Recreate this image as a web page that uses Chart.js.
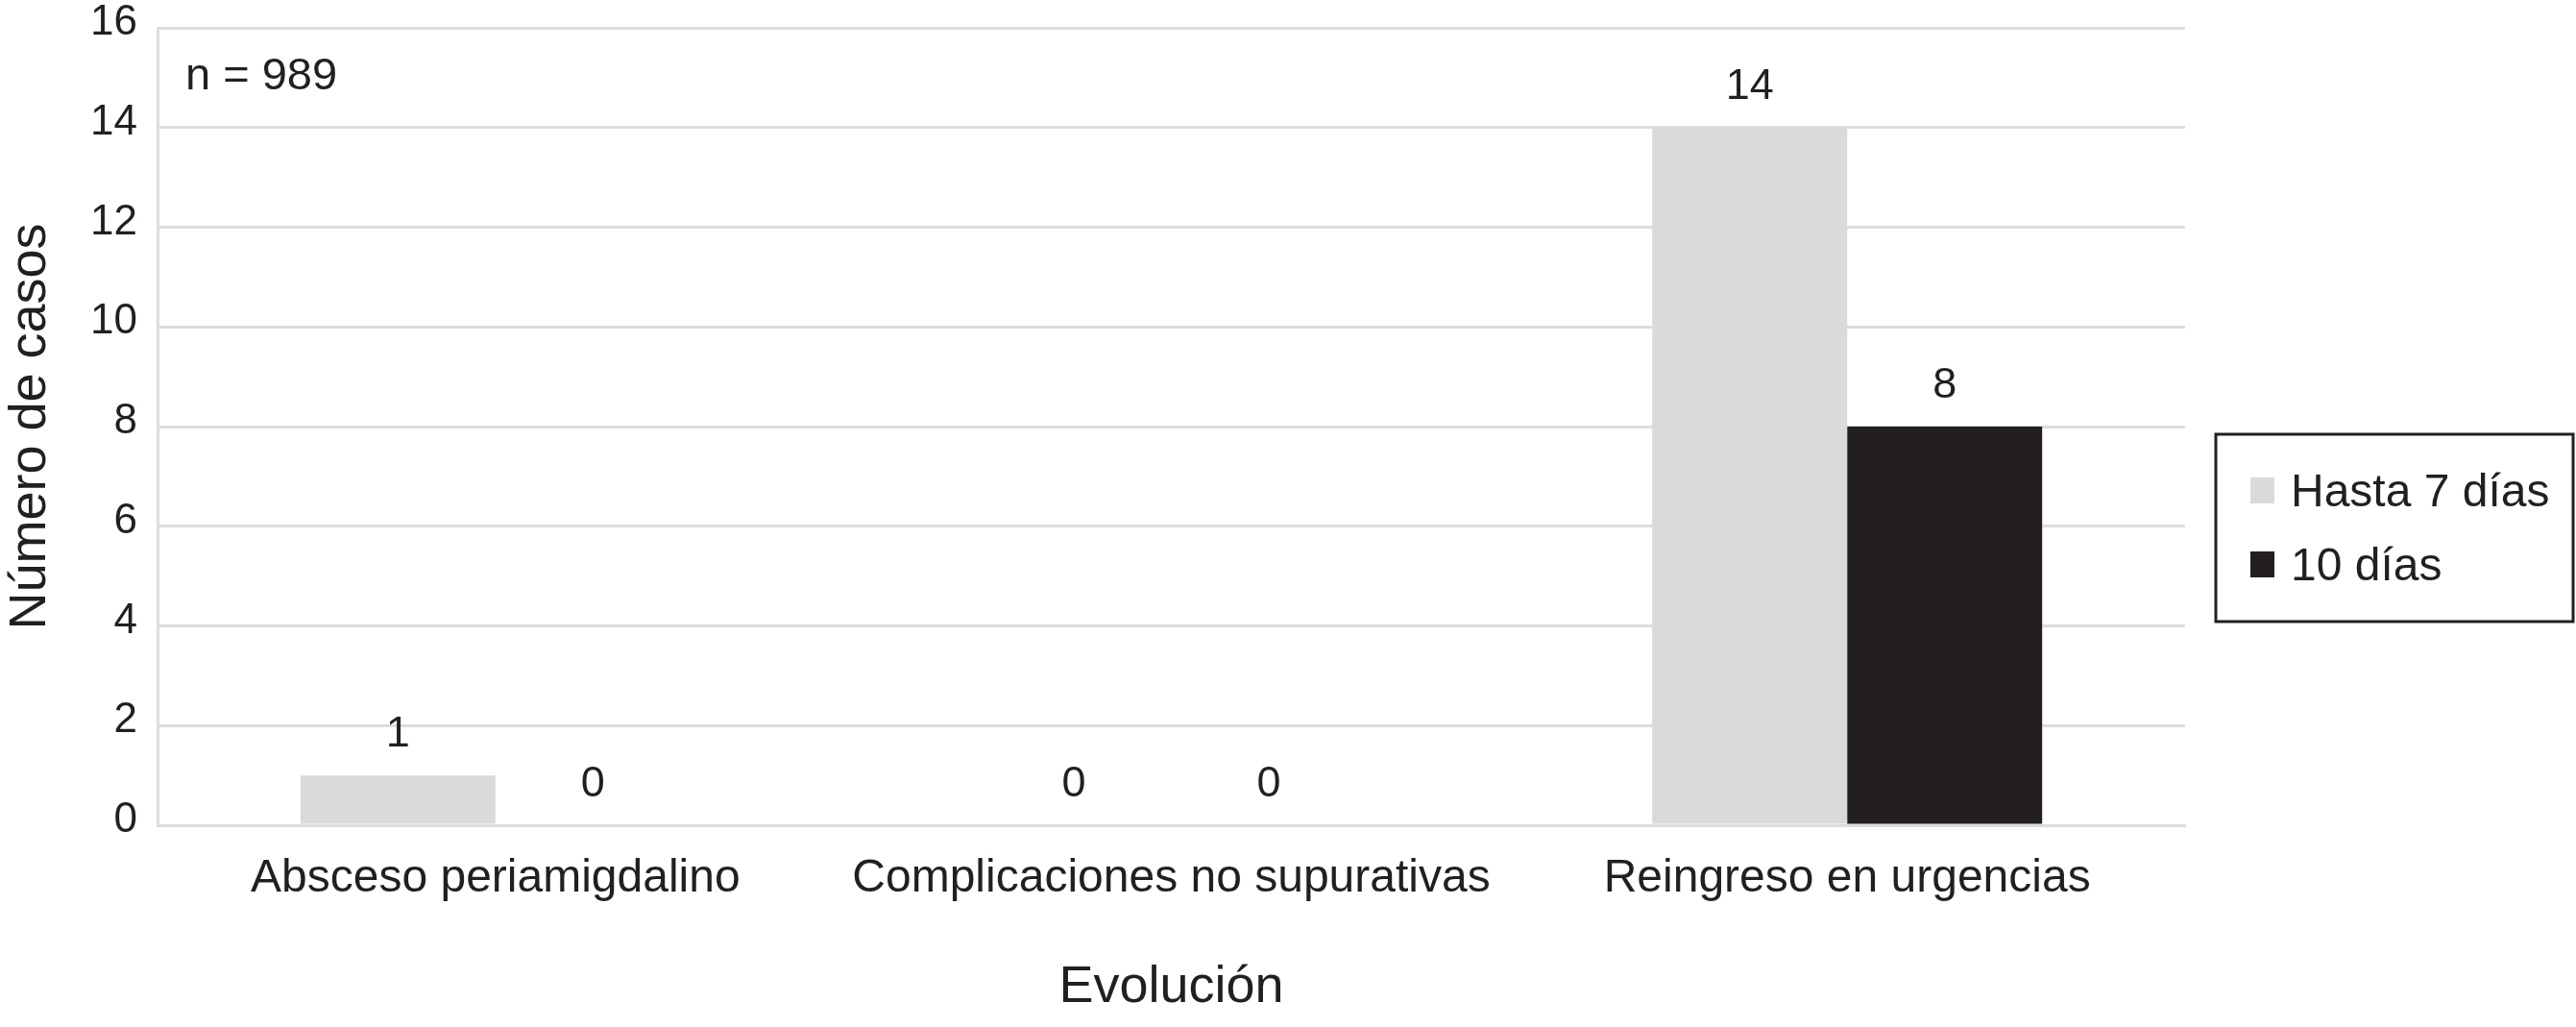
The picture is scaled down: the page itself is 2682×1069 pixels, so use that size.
<!DOCTYPE html>
<html>
<head>
<meta charset="utf-8">
<title>Evolución</title>
<script src="https://cdn.jsdelivr.net/npm/chart.js@4.4.1/dist/chart.umd.min.js"></script>
<style>
  html, body { margin: 0; padding: 0; background: #ffffff; }
  #wrap { width: 2682px; height: 1069px; position: relative; }
</style>
</head>
<body>
<div id="wrap"><canvas id="c"></canvas></div>
<script>
const categories = ['Absceso periamigdalino', 'Complicaciones no supurativas', 'Reingreso en urgencias'];
const seriesNames = ['Hasta 7 días', '10 días'];
const hasta7 = [1, 0, 14];
const diez = [0, 0, 8];
const yTicks = [0, 2, 4, 6, 8, 10, 12, 14, 16];
const annotationText = 'n = 989';
const yTitle = 'Número de casos';
const xTitle = 'Evolución';

const FONT = '"Liberation Sans", Arial, Helvetica, sans-serif';
const TEXT = '#231f20';
const GRID = '#dddddd';
const COLORS = ['#d9dadc', '#231f20'];

const valueLabels = {
  id: 'valueLabels',
  afterDatasetsDraw(chart) {
    const ctx = chart.ctx;
    ctx.save();
    ctx.font = '45px ' + FONT;
    ctx.fillStyle = TEXT;
    ctx.textAlign = 'center';
    ctx.textBaseline = 'alphabetic';
    chart.data.datasets.forEach((ds, di) => {
      const meta = chart.getDatasetMeta(di);
      meta.data.forEach((bar, i) => {
        ctx.fillText(String(ds.data[i]), bar.x, bar.y - 30);
      });
    });
    ctx.restore();
  }
};

const annotation = {
  id: 'annotation',
  afterDraw(chart) {
    const ctx = chart.ctx;
    const a = chart.chartArea;
    ctx.save();
    ctx.font = '47px ' + FONT;
    ctx.fillStyle = TEXT;
    ctx.textAlign = 'left';
    ctx.textBaseline = 'alphabetic';
    ctx.fillText(annotationText, a.left + 29, a.top + 64);
    ctx.restore();
  }
};

const boxedLegend = {
  id: 'boxedLegend',
  afterDraw(chart) {
    const ctx = chart.ctx;
    const a = chart.chartArea;
    const bx = a.right + 32, by = 452, bw = 372, bh = 195;
    ctx.save();
    ctx.strokeStyle = TEXT;
    ctx.lineWidth = 3;
    ctx.strokeRect(bx, by, bw, bh);
    ctx.font = '48px ' + FONT;
    ctx.textAlign = 'left';
    ctx.textBaseline = 'alphabetic';
    chart.data.datasets.forEach((ds, i) => {
      const rowY = by + 45 + i * 77;
      ctx.fillStyle = ds.backgroundColor;
      ctx.fillRect(bx + 36, rowY, 25, 27);
      ctx.fillStyle = TEXT;
      ctx.fillText(ds.label, bx + 78, rowY + 30);
    });
    ctx.restore();
  }
};

new Chart(document.getElementById('c'), {
  type: 'bar',
  data: {
    labels: categories,
    datasets: [
      { label: seriesNames[0], data: hasta7, backgroundColor: COLORS[0], borderWidth: 0 },
      { label: seriesNames[1], data: diez, backgroundColor: COLORS[1], borderWidth: 0 }
    ]
  },
  options: {
    responsive: true,
    maintainAspectRatio: false,
    devicePixelRatio: 1,
    animation: false,
    categoryPercentage: 0.577,
    barPercentage: 1.0,
    layout: { padding: { left: 0, top: 29, right: 407, bottom: 0 } },
    plugins: {
      legend: { display: false },
      tooltip: { enabled: false }
    },
    scales: {
      x: {
        grid: { display: false, drawTicks: false },
        border: { display: true, color: GRID, width: 3 },
        ticks: { color: TEXT, font: { family: FONT, size: 48 }, padding: 27, maxRotation: 0, autoSkip: false },
        title: { display: true, text: xTitle, color: TEXT, font: { family: FONT, size: 54 }, padding: { top: 0, bottom: 8 } },
        afterFit(scale) { scale.height = 210; scale.paddingLeft = 0; scale.paddingRight = 0; }
      },
      y: {
        min: 0,
        max: 16,
        afterBuildTicks(scale) { scale.ticks = yTicks.map(v => ({ value: v })); },
        grid: { color: GRID, lineWidth: 3, drawTicks: false },
        border: { display: true, color: GRID, width: 3 },
        ticks: { color: TEXT, font: { family: FONT, size: 44 }, padding: 21, labelOffset: -5 },
        title: { display: true, text: yTitle, color: TEXT, font: { family: FONT, size: 54 }, padding: { top: 0, bottom: 0 } },
        afterFit(scale) { scale.width = 164; scale.paddingTop = 0; scale.paddingBottom = 0; }
      }
    }
  },
  plugins: [valueLabels, annotation, boxedLegend]
});
</script>
</body>
</html>
